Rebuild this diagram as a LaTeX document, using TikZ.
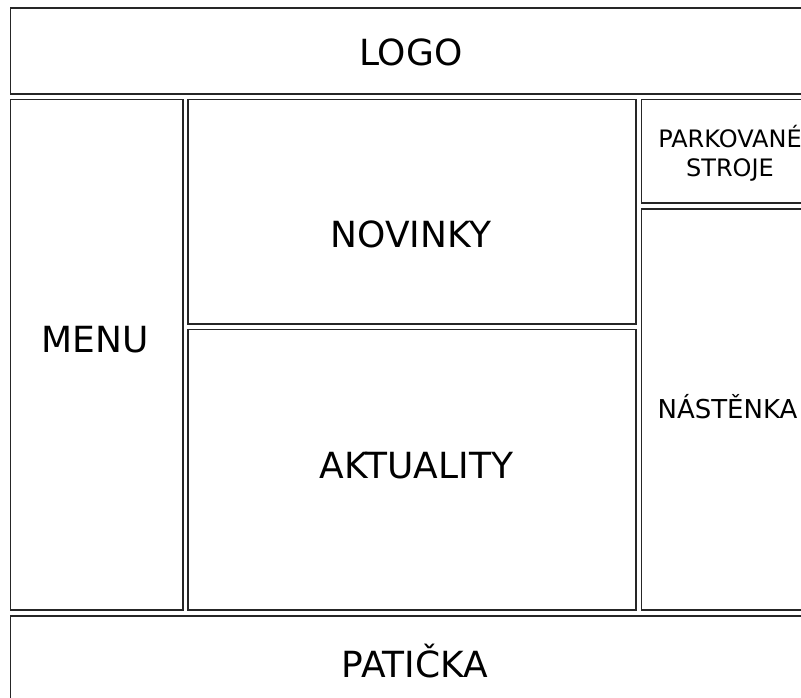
\documentclass[tikz,border=0pt]{standalone}
\usepackage{fontspec}
\setmainfont{DejaVu Sans}
\begin{document}
\begin{tikzpicture}[x=1pt,y=-1pt,
  panel/.style={draw=black!85,line width=1.1pt},
  bigtext/.style={anchor=base,inner sep=0pt,font=\fontsize{36}{42}\selectfont},
  midtext/.style={anchor=base,inner sep=0pt,font=\fontsize{26}{31}\selectfont},
  smalltext/.style={anchor=base,inner sep=0pt,font=\fontsize{24}{29}\selectfont}]
\useasboundingbox (0,0) rectangle (801,697);
\clip (0,0) rectangle (801,697);
\fill[white] (0,0) rectangle (801,697);
% page regions
\draw[panel] (10.5,8) rectangle (815,94);      % header
\draw[panel] (10.5,99.5) rectangle (183,610);  % menu
\draw[panel] (188,99.5) rectangle (636,324);   % news
\draw[panel] (188,329.5) rectangle (636,610);  % current items
\draw[panel] (641.5,99.5) rectangle (815,203); % parked machines
\draw[panel] (641.5,209) rectangle (815,610);  % notice board
\draw[panel] (10.5,616) rectangle (815,720);   % footer
% labels
\node[bigtext] (logo) at (410.7,65) {LOGO};
\node[bigtext] (menu) at (95,352) {MENU};
\node[bigtext] (novinky) at (411,247) {NOVINKY};
\node[bigtext] (aktuality) at (416.5,478) {AKTUALITY};
\node[bigtext] (paticka) at (415,677) {PATIČKA};
\node[midtext] (nastenka) at (727.5,418) {NÁSTĚNKA};
\node[smalltext] (parkovane) at (730,147) {PARKOVANÉ};
\node[smalltext] (stroje) at (730,176.5) {STROJE};
\end{tikzpicture}
\end{document}
